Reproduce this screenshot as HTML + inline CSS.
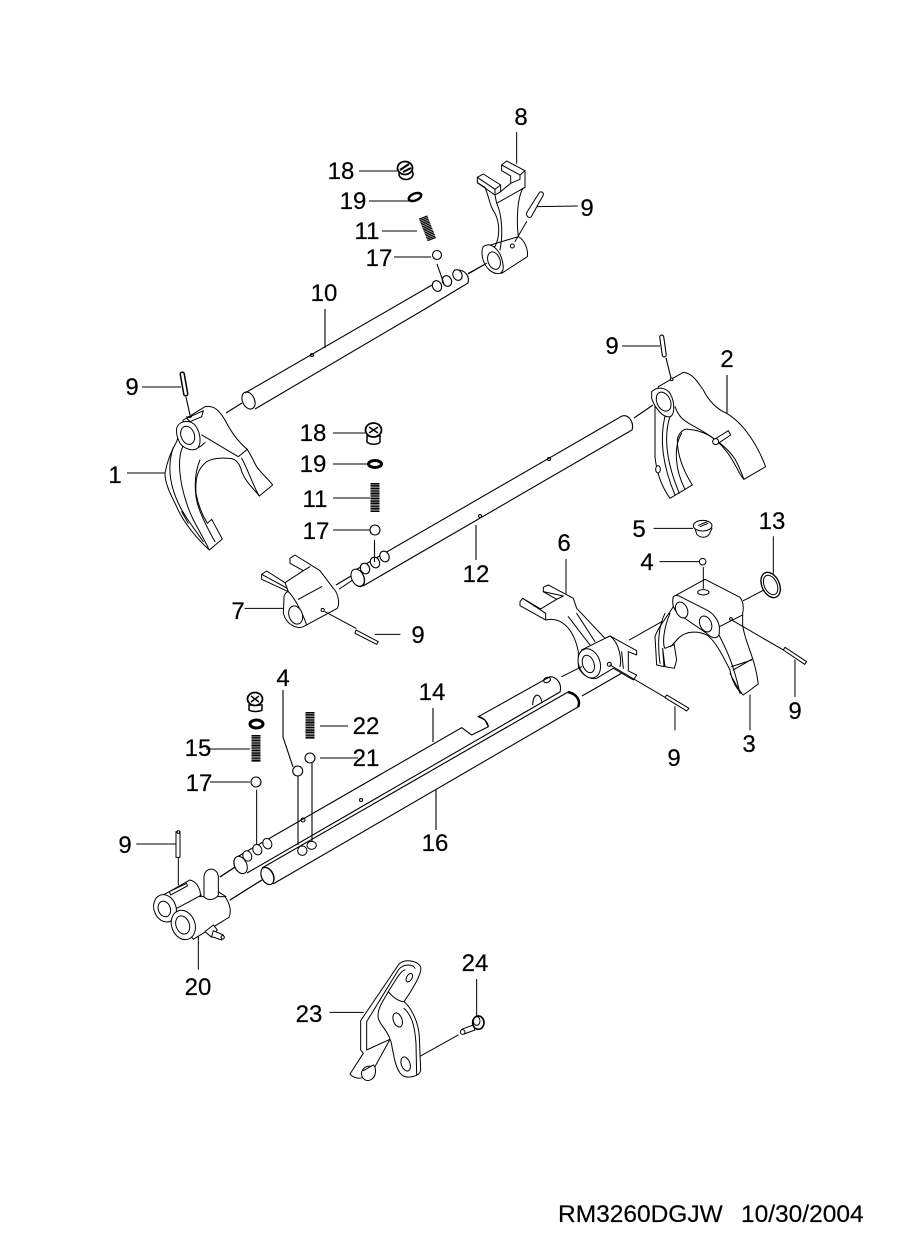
<!DOCTYPE html>
<html><head><meta charset="utf-8"><style>
html,body{margin:0;padding:0;background:#fff}
svg{display:block}
text{font-family:"Liberation Sans",sans-serif;font-size:24px;fill:#000;stroke:#000;stroke-width:.2}
.m{text-anchor:middle}
.d{fill:#fff;stroke:#000;stroke-width:3;stroke-linejoin:round;stroke-linecap:round}
.n{fill:none;stroke:#000;stroke-width:3;stroke-linejoin:round;stroke-linecap:round}
.l{stroke:#000;stroke-width:1.1;fill:none}
.f{fill:#fff;stroke:#000;stroke-width:1.1}
.s{stroke:#000;fill:none;stroke-dasharray:1.2 .45}
</style></head><body>
<svg width="900" height="1254" viewBox="0 0 900 1254" xmlns="http://www.w3.org/2000/svg">
<rect width="900" height="1254" fill="#fff"/>

<!-- shafts -->
<g class="l">
<!-- shaft 10 -->
<path d="M245,393L432,285M255,409L425,309L468,283C470,275 464,270 458,270M226,413L242,403M468,274L487,263"/>
<ellipse cx="248.500" cy="400.500" rx="6" ry="9" transform="rotate(-25 248.500 400.500)"/>
<circle cx="312" cy="355" r="1.500"/>
<g fill="#fff">
<ellipse cx="437" cy="286" rx="4.500" ry="5.500" transform="rotate(-25 437 286)"/>
<ellipse cx="447" cy="281" rx="4.500" ry="5.500" transform="rotate(-25 447 281)"/>
<ellipse cx="457.500" cy="275" rx="4.500" ry="5.500" transform="rotate(-25 457.500 275)"/>
</g>
<!-- shaft 12 -->
<path d="M352,572L622,416C630,414 634,424 632,430L363,586M336,585L351,576M634,418L653,405"/>
<ellipse cx="358" cy="578" rx="6" ry="9" transform="rotate(-25 358 578)"/>
<circle cx="480" cy="516" r="1.500"/><circle cx="549" cy="459" r="1.500"/>
<g fill="#fff">
<ellipse cx="365" cy="568.500" rx="4.500" ry="5.500" transform="rotate(-25 365 568.500)"/>
<ellipse cx="375" cy="562.500" rx="4.500" ry="5.500" transform="rotate(-25 375 562.500)"/>
<ellipse cx="384.500" cy="556.500" rx="4.500" ry="5.500" transform="rotate(-25 384.500 556.500)"/>
</g>
<!-- shaft 14 -->
<path d="M237,857L461.700,727.700L471.700,735L488.300,726.700L485,720L478.300,716.700L550,676.700C558,677 562,685 560,692L247,873M220,877L235,867"/>
<path d="M478.300,716.700C483,716.700 488.300,723 488.300,726.700"/>
<ellipse cx="547" cy="680" rx="3.500" ry="2.500" transform="rotate(-20 547 680)"/>
<path d="M532.700,705C533,693 540,692 541.700,701.700"/>
<ellipse cx="240.500" cy="865" rx="6" ry="9" transform="rotate(-25 240.500 865)"/>
<!-- shaft 16 -->
<path d="M262,868L568,692M273,884L578,707M230,900L262,880M582,696L622,673"/>
<ellipse cx="267.500" cy="876" rx="6" ry="9" transform="rotate(-25 267.500 876)"/>
<path d="M568,692C577,694 581,701 578,707" stroke-width="2.500"/>
<circle cx="303" cy="820" r="2"/><circle cx="361" cy="800" r="1.500"/>
</g>

<!-- fork 1 -->
<g transform="translate(120,360) scale(.3333)">
<path class="d" d="M190,180L255,140C285,135 300,155 315,180C335,220 360,250 382,268L400,300C410,330 440,350 458,375L418,408C400,385 380,370 365,335C360,312 350,300 335,296C300,292 280,295 260,305C235,325 225,350 228,400C235,440 250,470 262,490L275,478L307,537L268,570C240,545 190,490 170,440C150,400 135,370 135,340C140,310 150,280 170,245Z"/>
<path class="n" d="M188,260C170,300 180,370 200,430C215,480 250,530 268,570M160,262C140,320 150,380 180,440C195,470 225,510 250,545M240,300C222,340 222,400 235,440C245,470 265,510 285,545M245,225C280,245 320,270 355,290L382,268M365,295C385,330 400,380 418,408M235,262C245,260 250,250 255,248M185,455L205,490"/>
<path class="d" d="M170,205C175,185 205,175 225,195C240,215 245,245 235,262C225,275 195,270 180,250C172,235 168,220 170,205Z"/>
<ellipse class="d" cx="203" cy="226" rx="20" ry="28" transform="rotate(-20 203 226)"/>
<path class="n" d="M200,175L250,152L245,170L210,185ZM200,170C205,175 215,172 215,168"/>
</g>
<g class="f">
<rect x="182" y="372" width="4" height="24" rx="2" transform="rotate(-10 184 384)" stroke-width="1.500"/>
</g>
<path class="l" d="M142,387H181M186,397L190,415M127,473H165"/>

<!-- fork 2 -->
<g transform="translate(620,340) scale(.3333)">
<path class="d" d="M115,140L190,97C220,100 235,130 250,150C265,180 285,205 320,220C370,250 410,310 437,380L372,418C360,410 345,365 320,335C290,295 250,270 205,268C190,265 175,280 172,300C172,350 195,400 217,435L150,475C125,440 110,400 105,350L105,200Z"/>
<path class="n" d="M150,230C130,290 140,370 178,460M135,228C120,290 125,370 165,465M185,280C160,320 165,390 195,448M165,200C180,240 200,245 220,258C260,280 310,310 340,350C355,370 360,390 372,418"/>
<path class="d" d="M95,155C110,140 135,140 150,160C165,185 165,225 150,230C130,235 105,205 95,175Z"/>
<ellipse class="d" cx="131" cy="185" rx="20" ry="30" transform="rotate(-25 131 185)"/>
<path class="d" d="M280,300L325,272L332,285L295,310Z"/>
<circle class="d" cx="287" cy="305" r="9"/>
<ellipse class="d" cx="114" cy="388" rx="7" ry="11"/>
<circle class="d" cx="155" cy="118" r="4"/>
</g>
<rect x="661" y="335" width="4" height="22" rx="2" class="f" stroke-width="1.500" transform="rotate(-8 663 346)"/>
<path class="l" d="M622,346H660M666,358L671,378M727,375V413"/>

<!-- fork 8 -->
<g transform="translate(400,100) scale(.3333)">
<path class="d" d="M305,195L320,183L375,212L375,262L368,266C350,300 350,370 355,410C375,420 385,450 382,470L305,520L255,440L285,440C300,410 300,370 285,340C270,320 270,300 255,262L232,248L232,232L250,222L302,255L302,275L332,250L332,228L305,212Z"/>
<path class="n" d="M305,195L360,225L375,212M360,225V238L332,250M302,255L285,268L232,232M285,268V285L232,248M302,275L285,285L290,310L375,262M290,310C305,340 310,400 300,450M255,440L355,410"/>
<path class="d" d="M250,440C270,425 295,445 305,475C312,500 312,515 300,520C280,525 255,505 248,475C245,460 245,448 250,440Z"/>
<ellipse class="d" cx="282" cy="482" rx="18" ry="27" transform="rotate(-20 282 482)"/>
<circle class="d" cx="337" cy="438" r="6"/>
<path class="n" d="M345,425L380,365M205,520L260,490M350,97V190M412,320L532,318"/>
<path class="d" d="M380,345C378,340 380,338 382,335L418,278C422,272 432,278 430,285L394,350C390,355 382,352 380,345Z"/>
</g>

<!-- fork 7 -->
<g transform="translate(230,540) scale(.3333)">
<path class="d" d="M180,55L195,45L270,92L310,145C325,160 330,190 322,205L220,260C200,268 170,255 160,220L162,175C160,165 170,155 175,155L95,118L95,103L110,93L165,128L220,92L180,70Z"/>
<path class="n" d="M175,155C190,170 215,210 230,255M165,128L175,155M220,92L240,80M205,178L275,140M328,147L365,122M45,205H160M285,215L378,265M435,283H510M95,103L172,145"/>
<ellipse class="d" cx="197" cy="225" rx="20" ry="28" transform="rotate(-20 197 225)"/>
<circle class="d" cx="278" cy="210" r="5"/>
<path class="d" d="M378,270L445,305L440,313L375,280Z"/>
<ellipse class="d" cx="383" cy="113" rx="18" ry="27" transform="rotate(-25 383 113)"/>
</g>
<path class="l" d="M374.500,540V562"/>

<!-- fork 3 / 6 and pins -->
<g transform="translate(510,510) scale(.3333)">
<!-- fork 6 -->
<path class="d" d="M100,232L115,225L190,265L200,295L285,385L300,378L380,422L380,435L355,425L355,483L380,495L370,510L310,475L260,505C240,510 215,495 205,470L205,425C190,350 150,320 107,330L30,287L30,275L38,265L92,297L140,268L100,245Z"/>
<path class="n" d="M175,320L240,405M200,310L255,395M215,420L300,378C330,400 335,450 330,470M335,425L340,475M38,265L107,310L107,330M100,245L160,258M140,268L160,258"/>
<ellipse class="d" cx="238" cy="460" rx="32" ry="45" transform="rotate(-20 238 460)"/>
<ellipse class="d" cx="235" cy="462" rx="17" ry="27" transform="rotate(-20 235 462)"/>
<circle class="d" cx="298" cy="463" r="6"/>
<path class="n" d="M155,500L215,470M358,390L455,335M510,370L585,340M300,465L465,562M168,148V250M495,590V660"/>
<!-- fork 3 -->
<path class="d" d="M490,260L585,208L690,262C700,275 702,290 698,310L698,345C705,400 735,440 745,522L700,555C680,540 665,510 660,480C640,440 615,390 590,375C560,360 525,365 505,385L492,400L500,450L493,475L465,470L458,415L462,470L440,465L435,380C445,350 465,330 490,290Z"/>
<path class="n" d="M628,350L698,315M627,375C650,420 670,460 690,550M670,480L725,448M665,470L725,450M465,310C440,360 445,420 450,460M480,310C455,370 460,410 465,415L490,405M505,385L482,410M660,490C670,510 680,530 695,550"/>
<path class="d" d="M490,260C485,280 490,300 510,315L590,370C610,390 625,385 628,370L628,350C625,330 610,310 590,300L515,262C505,255 495,255 490,260Z"/>
<ellipse class="d" cx="515" cy="300" rx="17" ry="25" transform="rotate(-25 515 300)"/>
<ellipse class="d" cx="587" cy="342" rx="17" ry="25" transform="rotate(-25 587 342)"/>
<ellipse class="d" cx="580" cy="247" rx="17" ry="8"/>
<path class="n" d="M700,272L762,240M580,172V235M665,330L820,420M790,80V190M720,555V660M855,450V560M432,55H548M450,155H568"/>
<circle class="d" cx="663" cy="327" r="4"/>
<path class="d" d="M465,563L470,555L537,595L530,603Z"/>
<path class="d" d="M820,420L825,412L890,455L884,463Z"/>
<!-- ring 13 -->
<ellipse class="d" cx="782" cy="225" rx="26" ry="40" transform="rotate(-25 782 225)" style="stroke-width:4"/>
<ellipse class="n" cx="782" cy="225" rx="19" ry="31" transform="rotate(-25 782 225)"/>
<!-- plug 5 -->
<path class="d" d="M555,55L560,72C570,85 590,85 598,72L606,55"/>
<ellipse class="d" cx="578" cy="47" rx="28" ry="16"/>
<path class="n" d="M565,46L590,36M570,50L594,40"/>
<circle class="d" cx="578" cy="155" r="10"/>
</g>

<!-- block 20 -->
<g transform="translate(130,780) scale(.3333)">
<path class="d" d="M100,345L180,300C205,305 215,340 210,350L285,350C300,370 305,395 297,412L190,478L130,400Z"/>
<path class="n" d="M135,388L215,345M265,335L288,350M300,360L395,300M205,470V568M20,192H138M145,235V315M380,30V195M270,290L315,262"/>
<ellipse class="d" cx="105" cy="385" rx="33" ry="42" transform="rotate(-20 105 385)"/>
<ellipse class="d" cx="103" cy="387" rx="18" ry="24" transform="rotate(-20 103 387)"/>
<ellipse class="d" cx="160" cy="435" rx="35" ry="45" transform="rotate(-20 160 435)"/>
<ellipse class="d" cx="158" cy="435" rx="20" ry="28" transform="rotate(-20 158 435)"/>
<path class="d" d="M222,350L222,290C225,260 262,260 265,290L265,345C255,362 232,362 222,350Z"/>
<path class="d" d="M118,335L170,310L172,318L122,345Z"/>
<rect class="d" x="138" y="155" width="12" height="77"/>
<circle class="d" cx="145" cy="156" r="4"/>
<path class="d" d="M225,455L250,435L262,450L245,472Z"/>
<path class="d" d="M250,452L280,465L275,480L245,470Z"/>
<circle class="d" cx="278" cy="472" r="5"/>
<ellipse class="d" cx="352" cy="228" rx="13" ry="16" transform="rotate(-25 352 228)"/>
<ellipse class="d" cx="382" cy="209" rx="13" ry="16" transform="rotate(-25 382 209)"/>
<ellipse class="d" cx="412" cy="191" rx="13" ry="16" transform="rotate(-25 412 191)"/>
<ellipse class="d" cx="332" cy="255" rx="18" ry="27" transform="rotate(-25 332 255)"/>
<ellipse class="d" cx="412" cy="288" rx="17" ry="27" transform="rotate(-25 412 288)"/>
<ellipse class="d" cx="517" cy="212" rx="14" ry="14"/>
<ellipse class="d" cx="545" cy="196" rx="14" ry="12"/>
</g>
<path class="l" d="M298,776V845M312,763V842M283,690V737L293,767M320,758H358M320,726H348M147,844H176M206,749H250M210,782H250"/>

<!-- bracket 23 -->
<g transform="translate(330,950) scale(.3333)">
<path class="d" d="M92,212L205,45C220,25 260,30 272,50C278,70 240,130 222,155C240,170 265,210 268,260L272,360C270,380 235,385 220,378C205,370 195,340 190,310C185,290 185,275 180,268L135,350C120,385 80,395 60,372L100,310L92,300Z"/>
<path class="n" d="M110,215L205,60C220,40 250,42 255,55M175,125L200,85C210,70 220,60 225,60M175,125C195,150 215,155 222,155M175,125C155,160 140,180 145,205C150,225 175,245 180,268M110,300L180,268M110,215V300M222,175C250,200 255,240 258,280L260,375M0,187H100M440,88V198M272,318L385,255"/>
<ellipse class="n" cx="238" cy="83" rx="8" ry="14" transform="rotate(30 238 83)"/>
<ellipse class="n" cx="203" cy="210" rx="13" ry="22" transform="rotate(-20 203 210)"/>
<ellipse class="n" cx="227" cy="342" rx="13" ry="22" transform="rotate(-20 227 342)"/>
<ellipse class="d" cx="115" cy="370" rx="20" ry="22" transform="rotate(30 115 370)"/>
<path class="d" d="M100,362L130,345C140,355 138,375 128,385"/>
<path class="d" d="M395,238L430,225L435,240L402,252Z"/>
<circle class="d" cx="398" cy="246" r="7"/>
<ellipse class="d" cx="445" cy="218" rx="17" ry="20" style="stroke-width:5"/>
<ellipse class="n" cx="440" cy="213" rx="10" ry="13"/>
</g>

<!-- leader lines for small parts -->
<g class="l">
<path d="M359,171H397M369,201H409M382,231H417M394,257H431M437,264L444,284M333,433H365M333,464H368M333,498H370M333,530H370"/>
</g>
<!-- bolt top -->
<g fill="#fff" stroke="#000" stroke-width="1.600">
<ellipse cx="406" cy="174" rx="7" ry="5.500"/>
<ellipse cx="405" cy="168" rx="7.500" ry="6.500" stroke-width="1.800"/>
</g>
<path d="M400,170L409,164M403,172L411,168" stroke="#000" stroke-width="2"/>
<ellipse cx="415" cy="197" rx="6.500" ry="3.500" transform="rotate(-22 415 197)" fill="none" stroke="#000" stroke-width="2.500"/>
<path class="s" d="M423,217L432,240" stroke-width="9"/>
<circle cx="437" cy="255" r="4.500" class="f"/>
<!-- bolt mid -->
<g fill="#fff" stroke="#000" stroke-width="1.500">
<path d="M367,436V442C370,445 378,445 380,442V436Z"/>
<ellipse cx="373.500" cy="430" rx="8" ry="7" stroke-width="1.800"/>
</g>
<path d="M369,427L378,433M378,427L369,433" stroke="#000" stroke-width="1.500"/>
<ellipse cx="375" cy="464" rx="6.500" ry="3.500" fill="none" stroke="#000" stroke-width="3"/>
<path class="s" d="M375,483V512" stroke-width="9"/>
<circle cx="375" cy="530" r="5" class="f"/>
<!-- bolt lower -->
<g fill="#fff" stroke="#000" stroke-width="1.500">
<path d="M249,705V710C252,712 259,712 262,710V705Z"/>
<ellipse cx="255" cy="699" rx="7.500" ry="6.500" stroke-width="1.800"/>
</g>
<path d="M251,696L259,702M259,696L251,702" stroke="#000" stroke-width="1.500"/>
<ellipse cx="256.500" cy="724" rx="6.500" ry="4" fill="none" stroke="#000" stroke-width="3"/>
<path class="s" d="M256,735V762" stroke-width="9"/>
<path class="s" d="M310,712V739" stroke-width="9"/>
<circle cx="256" cy="782" r="5" class="f"/>
<circle cx="310" cy="758" r="5" class="f"/>
<circle cx="297.700" cy="771" r="5" class="f"/>

<!-- labels -->
<text x="521" y="125" class="m">8</text>
<text x="341" y="179" class="m">18</text>
<text x="353" y="209" class="m">19</text>
<text x="367" y="239" class="m">11</text>
<text x="379" y="266" class="m">17</text>
<text x="587" y="216" class="m">9</text>
<text x="324" y="301" class="m">10</text>
<text x="132" y="395" class="m">9</text>
<text x="115" y="483" class="m">1</text>
<text x="612" y="354" class="m">9</text>
<text x="727" y="367" class="m">2</text>
<text x="313" y="441" class="m">18</text>
<text x="313" y="472" class="m">19</text>
<text x="315" y="507" class="m">11</text>
<text x="316" y="539" class="m">17</text>
<text x="476" y="582" class="m">12</text>
<text x="639" y="537" class="m">5</text>
<text x="772" y="529" class="m">13</text>
<text x="647" y="570" class="m">4</text>
<text x="564" y="551" class="m">6</text>
<text x="238" y="619" class="m">7</text>
<text x="418" y="643" class="m">9</text>
<text x="749" y="752" class="m">3</text>
<text x="795" y="719" class="m">9</text>
<text x="674" y="766" class="m">9</text>
<text x="283" y="686" class="m">4</text>
<text x="432" y="700" class="m">14</text>
<text x="366" y="734" class="m">22</text>
<text x="366" y="766" class="m">21</text>
<text x="198" y="756" class="m">15</text>
<text x="199" y="791" class="m">17</text>
<text x="125" y="853" class="m">9</text>
<text x="435" y="851" class="m">16</text>
<text x="198" y="995" class="m">20</text>
<text x="309" y="1022" class="m">23</text>
<text x="475" y="971" class="m">24</text>
<text x="558" y="1222" style="font-size:24.500px">RM3260DGJW</text>
<text x="741" y="1222" style="font-size:24.500px">10/30/2004</text>
<path class="l" d="M325,309V348M476,525V560M433,708V742M436,790V830"/>
</svg>
</body></html>
